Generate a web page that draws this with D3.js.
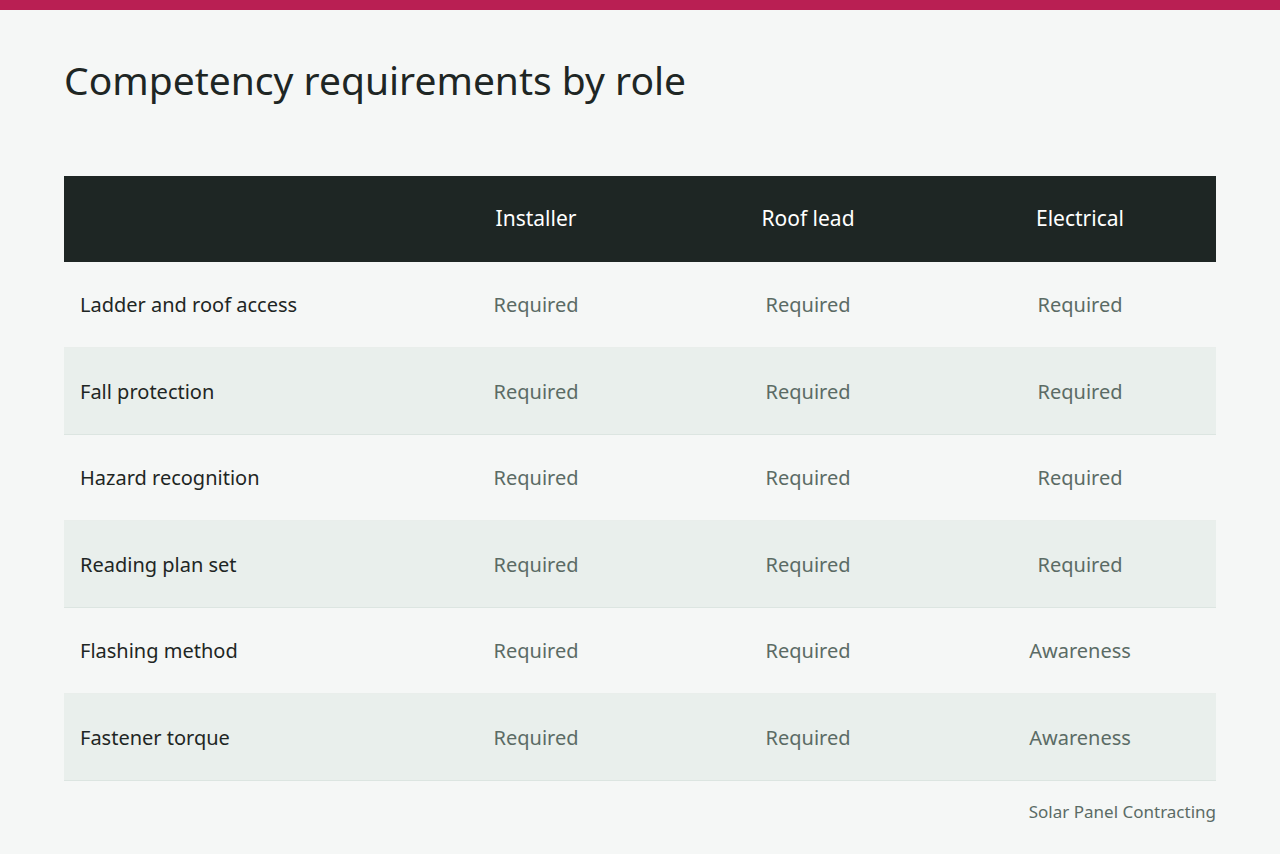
<!DOCTYPE html>
<html><head><meta charset="utf-8">
<script src="https://cdn.jsdelivr.net/npm/d3@7"></script>
<style>body{margin:0;background:#f5f7f6;}svg{display:block;font-family:"Noto Sans",sans-serif;}</style>
</head><body>
<svg id="chart" width="1280" height="854"></svg>
<script>
const roles = ["Installer", "Roof lead", "Electrical"];
const skills = ["Ladder and roof access", "Fall protection", "Hazard recognition",
  "Reading plan set", "Flashing method", "Fastener torque"];
const installer = ["Required", "Required", "Required", "Required", "Required", "Required"];
const roofLead = ["Required", "Required", "Required", "Required", "Required", "Required"];
const electrical = ["Required", "Required", "Required", "Required", "Awareness", "Awareness"];
const levels = [installer, roofLead, electrical];

const svg = d3.select("#chart");
const W = 1280, left = 64, right = 1216;

svg.append("rect").attr("width", W).attr("height", 854).attr("fill", "#f5f7f6");
svg.append("rect").attr("width", W).attr("height", 10).attr("fill", "#b91f53");

svg.append("text").attr("x", left).attr("y", 95).attr("font-size", 39)
  .attr("fill", "#1e2624").text("Competency requirements by role");

const headTop = 176, headH = 86;
const y = d3.scaleBand().domain(skills).range([headTop + headH, 781]);
const x = d3.scalePoint().domain(roles).range([536, 1080]);

svg.append("rect").attr("x", left).attr("y", headTop).attr("width", right - left)
  .attr("height", headH).attr("fill", "#1e2624");
svg.selectAll("text.head").data(roles).join("text").attr("class", "head")
  .attr("x", d => x(d)).attr("y", headTop + headH / 2).attr("dy", "0.35em")
  .attr("text-anchor", "middle").attr("font-size", 21).attr("fill", "#ffffff").text(d => d);

const rows = svg.selectAll("g.row").data(skills).join("g").attr("class", "row")
  .attr("transform", d => `translate(0,${y(d)})`);
rows.append("rect").attr("x", left).attr("width", right - left).attr("height", y.bandwidth())
  .attr("fill", (d, i) => i % 2 ? "#e9efec" : "#f5f7f6");
rows.append("line").attr("x1", left).attr("x2", right)
  .attr("y1", y.bandwidth() - 0.5).attr("y2", y.bandwidth() - 0.5)
  .attr("stroke", "#dce5e1").attr("stroke-width", 1);
rows.append("text").attr("x", 80).attr("y", y.bandwidth() / 2).attr("dy", "0.35em")
  .attr("font-size", 20).attr("fill", "#1e2624").text(d => d);
rows.each(function(d, i) {
  d3.select(this).selectAll("text.val").data(roles).join("text").attr("class", "val")
    .attr("x", r => x(r)).attr("y", y.bandwidth() / 2).attr("dy", "0.35em")
    .attr("text-anchor", "middle").attr("font-size", 20).attr("fill", "#5b6b65")
    .text((r, j) => levels[j][i]);
});

svg.append("text").attr("x", right).attr("y", 818).attr("text-anchor", "end")
  .attr("font-size", 17).attr("fill", "#5b6b65").text("Solar Panel Contracting");
</script>
</body></html>
